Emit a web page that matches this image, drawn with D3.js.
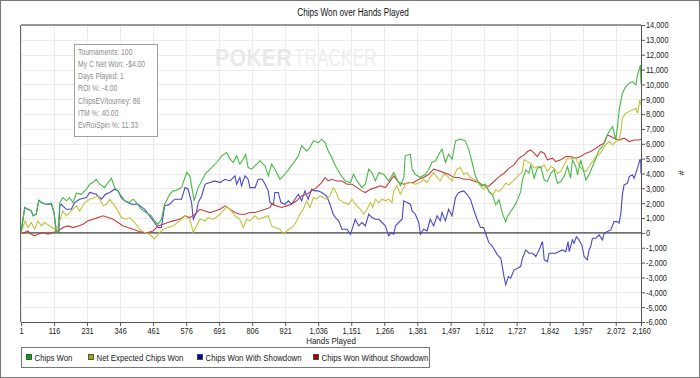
<!DOCTYPE html>
<html>
<head>
<meta charset="utf-8">
<script src="https://cdn.jsdelivr.net/npm/d3@7"></script>
<style>
  body { margin: 0; background: #fff; }
  text { font-family: "Liberation Sans", Arial, sans-serif; }
</style>
</head>
<body>
<div id="chart"></div>
<script>
// ---- data ----
var handTicks = [1, 116, 231, 346, 461, 576, 691, 806, 921, 1036, 1151, 1266, 1381, 1497, 1612, 1727, 1842, 1957, 2072, 2160];
var chipTicks = [-6000, -5000, -4000, -3000, -2000, -1000, 0, 1000, 2000, 3000, 4000, 5000, 6000, 7000, 8000, 9000, 10000, 11000, 12000, 13000, 14000];

var wonHands = [1, 14, 20, 37, 43, 54, 63, 72, 89, 107, 116, 124, 130, 136, 147, 159, 170, 182, 194, 211, 229, 240, 252, 263, 275, 292, 304, 316, 327, 339, 350, 362, 379, 391, 403, 420, 437, 455, 466, 478, 490, 501, 519, 530, 537, 560, 578, 589, 604, 618, 642, 653, 665, 682, 700, 717, 729, 740, 752, 763, 775, 783, 792, 804, 822, 833, 851, 862, 874, 885, 903, 920, 938, 955, 967, 978, 996, 1007, 1019, 1036, 1048, 1060, 1071, 1083, 1096, 1113, 1130, 1148, 1159, 1171, 1188, 1200, 1212, 1223, 1235, 1247, 1264, 1281, 1299, 1310, 1322, 1334, 1339, 1357, 1363, 1374, 1392, 1409, 1421, 1432, 1444, 1456, 1467, 1479, 1490, 1502, 1514, 1531, 1548, 1560, 1572, 1583, 1595, 1606, 1618, 1631, 1643, 1654, 1666, 1677, 1689, 1695, 1706, 1718, 1730, 1741, 1747, 1759, 1770, 1776, 1788, 1799, 1811, 1823, 1834, 1846, 1857, 1869, 1881, 1892, 1904, 1915, 1921, 1933, 1939, 1950, 1962, 1968, 1979, 1991, 2003, 2014, 2026, 2037, 2049, 2061, 2072, 2078, 2084, 2095, 2107, 2119, 2130, 2142, 2148, 2155, 2158, 2160];
var wonChips = [0, 1710, 1640, 1480, 1150, 1260, 2200, 2040, 1930, 2000, 1370, 20, 70, 2040, 2380, 2160, 2380, 2040, 2670, 2600, 2940, 3280, 3390, 3610, 3280, 3050, 3390, 3680, 3050, 2830, 2490, 2160, 2040, 2270, 2040, 1590, 1370, 1150, 810, 580, 920, 1930, 2600, 2830, 2830, 3050, 4060, 3840, 2160, 3050, 3950, 4180, 4400, 4740, 5190, 5410, 4960, 4740, 5190, 4630, 4960, 5300, 4400, 4290, 4630, 4850, 4510, 3840, 4630, 4290, 3610, 3950, 4400, 4850, 5190, 5860, 5520, 5750, 6200, 6080, 6310, 6080, 5520, 5070, 4510, 3950, 3500, 3390, 3950, 3500, 3050, 3280, 4290, 4060, 3500, 4060, 3950, 3500, 4060, 3610, 3170, 3730, 5190, 5300, 4290, 3950, 3730, 3950, 4290, 4740, 4850, 5300, 5640, 4740, 5300, 4960, 6200, 6310, 6200, 5640, 4740, 3840, 3390, 3170, 3280, 2750, 2560, 1890, 2220, 1330, 760, 1100, 1440, 1770, 2220, 2780, 3570, 4240, 4020, 4580, 3680, 4360, 4470, 3570, 3460, 4020, 4240, 3350, 3460, 3790, 4470, 3680, 4920, 4470, 3910, 4920, 4020, 3570, 3910, 4470, 5030, 5590, 5820, 6380, 6830, 7160, 6260, 7160, 8280, 9410, 9860, 10080, 10190, 9970, 10640, 11100, 11300, 10050];

var evHands = [1, 16, 25, 37, 49, 60, 72, 83, 101, 118, 130, 147, 159, 176, 194, 205, 223, 240, 258, 269, 287, 298, 310, 327, 339, 350, 368, 379, 397, 414, 432, 449, 466, 478, 496, 513, 530, 554, 572, 589, 601, 612, 624, 642, 653, 671, 688, 705, 717, 729, 746, 763, 775, 787, 798, 816, 827, 845, 862, 874, 885, 903, 914, 926, 943, 955, 972, 984, 996, 1007, 1019, 1030, 1042, 1054, 1065, 1077, 1088, 1096, 1107, 1125, 1142, 1154, 1165, 1183, 1194, 1206, 1218, 1226, 1235, 1247, 1258, 1270, 1281, 1293, 1299, 1310, 1322, 1334, 1339, 1357, 1374, 1392, 1403, 1415, 1426, 1438, 1450, 1461, 1473, 1485, 1502, 1519, 1531, 1543, 1554, 1566, 1577, 1589, 1601, 1612, 1624, 1631, 1643, 1654, 1666, 1677, 1689, 1701, 1712, 1724, 1735, 1747, 1753, 1765, 1776, 1788, 1799, 1811, 1823, 1834, 1846, 1857, 1869, 1881, 1892, 1904, 1921, 1933, 1944, 1956, 1968, 1979, 1991, 2003, 2014, 2026, 2037, 2049, 2061, 2072, 2084, 2090, 2095, 2107, 2119, 2130, 2142, 2148, 2156, 2160];
var evChips = [0, 810, 360, 700, 250, 810, 470, 700, 470, 250, 470, 1480, 1150, 1480, 1820, 1480, 2040, 2270, 2380, 2490, 1820, 1930, 2270, 1820, 1480, 1030, 920, 1030, 700, 250, 20, -90, -400, -90, 250, 360, 470, 810, 1150, 920, 20, 470, 920, 810, 1030, 920, 1150, 1480, 1770, 1590, 1150, 920, 360, 920, 810, 1150, 920, 1030, 1150, 470, 360, 250, -90, 130, 360, 580, 1260, 1590, 2160, 1710, 2380, 2270, 2490, 2380, 2270, 2490, 3050, 2830, 2270, 2040, 1930, 2270, 1930, 1590, 1260, 1590, 2040, 1710, 2270, 2040, 2270, 2160, 2270, 2040, 2830, 3170, 2600, 3050, 3280, 3390, 3280, 3390, 3610, 3390, 3730, 4060, 3730, 3500, 3950, 3840, 3500, 4290, 4400, 3950, 4060, 3730, 3610, 3500, 3170, 2940, 3170, 2780, 2560, 2900, 2780, 3010, 3350, 3230, 3460, 3680, 3910, 4130, 4920, 4800, 4690, 4360, 4470, 4360, 4580, 4130, 4470, 4360, 4020, 4130, 4580, 5030, 5030, 5030, 4580, 4240, 4130, 4470, 4800, 5140, 5250, 5590, 5930, 6150, 5930, 6150, 6260, 6830, 7720, 8060, 8170, 8280, 8400, 8060, 8960, 8620];

var sdHands = [1, 14, 20, 37, 43, 54, 63, 72, 89, 107, 116, 124, 133, 136, 141, 159, 176, 188, 205, 229, 240, 263, 281, 295, 310, 327, 339, 350, 362, 385, 408, 432, 449, 466, 478, 490, 501, 519, 530, 537, 560, 572, 583, 595, 601, 612, 618, 630, 642, 659, 676, 694, 711, 729, 746, 752, 763, 769, 781, 792, 798, 816, 827, 841, 851, 862, 868, 880, 885, 897, 906, 920, 932, 943, 955, 967, 978, 990, 1001, 1013, 1025, 1036, 1048, 1065, 1077, 1088, 1096, 1107, 1119, 1136, 1148, 1156, 1165, 1177, 1188, 1200, 1212, 1223, 1235, 1247, 1258, 1270, 1281, 1291, 1299, 1305, 1316, 1328, 1334, 1345, 1357, 1363, 1374, 1386, 1392, 1403, 1415, 1426, 1438, 1450, 1461, 1467, 1479, 1490, 1502, 1514, 1525, 1543, 1554, 1566, 1577, 1589, 1601, 1612, 1620, 1630, 1643, 1660, 1672, 1683, 1689, 1698, 1706, 1718, 1730, 1741, 1747, 1759, 1770, 1782, 1794, 1805, 1817, 1823, 1834, 1840, 1863, 1875, 1886, 1898, 1906, 1910, 1921, 1927, 1935, 1944, 1954, 1962, 1973, 1979, 1985, 1991, 2003, 2014, 2026, 2032, 2043, 2055, 2066, 2078, 2084, 2090, 2095, 2101, 2113, 2119, 2130, 2136, 2142, 2151, 2156, 2159, 2160];
var sdChips = [0, 1710, 1640, 1480, 1150, 1260, 2200, 2040, 1930, 1930, 1370, 20, 30, 1820, 1930, 1590, 1590, 2040, 2270, 2380, 2720, 2600, 2270, 2600, 2720, 2940, 2830, 2380, 2160, 1930, 1930, 1590, 1150, 700, 360, 360, 1820, 1930, 2160, 2270, 2270, 3050, 2940, 2040, 920, 1370, 2040, 2490, 3280, 3390, 3500, 3390, 3610, 3500, 3840, 3280, 3730, 3170, 3840, 3610, 3050, 3050, 3610, 3610, 3280, 2830, 2040, 1930, 2720, 2720, 2040, 1930, 2160, 1930, 2270, 2600, 2160, 2830, 2270, 2940, 2830, 2830, 2720, 2490, 1930, 1260, 1030, 810, 250, 250, -90, 360, 920, 470, 700, 470, 1260, 1030, 920, 920, 700, 470, -200, 20, -90, 470, 700, 920, 2160, 2040, 1930, 1480, 1260, 700, -90, 250, 130, 920, 470, 1150, 810, 1370, 810, 1590, 1150, 2380, 2720, 2830, 2600, 2270, 1590, 920, 360, 360, -90, -650, -920, -1480, -1710, -2940, -3500, -2940, -3050, -2490, -2380, -2270, -1710, -1150, -1370, -1370, -1590, -1150, -580, -1820, -1930, -1370, -1370, -1260, -1150, -1260, -580, -1260, -470, -700, -250, -470, -810, -1590, -1820, -1150, -920, -360, -360, -130, -470, -20, 90, 200, 760, 760, 650, 1330, 2560, 3230, 3350, 3790, 3910, 3680, 4020, 4580, 4920, 4920, 4020];

var nsdHands = [1, 14, 25, 37, 49, 60, 78, 95, 112, 130, 147, 165, 182, 200, 217, 234, 252, 269, 287, 304, 321, 339, 356, 374, 391, 408, 426, 443, 461, 478, 496, 513, 530, 554, 572, 589, 607, 624, 642, 659, 676, 694, 711, 729, 746, 763, 781, 798, 816, 833, 851, 868, 874, 891, 909, 926, 943, 961, 978, 996, 1013, 1030, 1048, 1060, 1071, 1083, 1101, 1119, 1136, 1154, 1171, 1188, 1200, 1218, 1235, 1252, 1270, 1287, 1299, 1316, 1334, 1351, 1368, 1386, 1403, 1421, 1438, 1456, 1473, 1490, 1508, 1525, 1543, 1560, 1577, 1595, 1612, 1630, 1648, 1666, 1683, 1701, 1718, 1735, 1753, 1765, 1776, 1788, 1799, 1811, 1823, 1834, 1852, 1863, 1881, 1898, 1915, 1933, 1950, 1968, 1985, 2003, 2020, 2032, 2043, 2055, 2066, 2084, 2101, 2119, 2136, 2153, 2160];
var nsdChips = [0, 20, 130, -90, -200, -90, 20, -90, 20, 130, 360, 470, 360, 470, 580, 810, 920, 1030, 1150, 1030, 920, 700, 470, 360, 250, 130, 20, 20, 130, 470, 580, 700, 810, 920, 1150, 1030, 1260, 1590, 1480, 1370, 1480, 1590, 1820, 1590, 1370, 1260, 1260, 1370, 1370, 1480, 1590, 1710, 1930, 1820, 1710, 1820, 1930, 2160, 2490, 2600, 2830, 3050, 3390, 3730, 3500, 3610, 3500, 3500, 3280, 3280, 3050, 2830, 2720, 2940, 3050, 3170, 3050, 3500, 3840, 3390, 3280, 3390, 3390, 3610, 3730, 3950, 4290, 4180, 4060, 3950, 3730, 3730, 3610, 3610, 3500, 3390, 3170, 3140, 3460, 3790, 4020, 4360, 4580, 5030, 5250, 5480, 5590, 5370, 5140, 5480, 5370, 4920, 5030, 4800, 4920, 5140, 5140, 5030, 5140, 5370, 5480, 5700, 5930, 6040, 6600, 6490, 6380, 6260, 6380, 6150, 6260, 6260, 6310];

var legendNames = ["Chips Won", "Net Expected Chips Won", "Chips Won With Showdown", "Chips Won Without Showdown"];
var infoLines = ["Tournaments: 100", "My C Net Won: -$4.00", "Days Played: 1", "ROI %: -4.00", "ChipsEV/tourney: 86", "ITM %: 40.00", "EvRoiSpin %: 11.33"];

// ---- layout ----
var W = 700, H = 378;
var margin = { top: 25, right: 59, bottom: 56, left: 21 },
  width = W - margin.left - margin.right,
  height = H - margin.top - margin.bottom;

var x = d3.scaleLinear().domain([1, 2160]).range([0, width]);
var y = d3.scaleLinear().domain([-6000, 14000]).range([height, 0]);

var fmt = function (d) { return d3.format(",")(d).replace("\u2212", "-"); };

// no narrow font installed, so squeeze the text horizontally
function squeeze(sel, k) {
  sel.each(function () {
    var w = this.getComputedTextLength();
    d3.select(this).attr("textLength", w * k).attr("lengthAdjust", "spacingAndGlyphs");
  });
}

var root = d3.select("#chart").append("svg")
  .attr("width", W)
  .attr("height", H);

root.append("rect")
  .attr("x", 0.5).attr("y", 0.5)
  .attr("width", W - 1).attr("height", H - 1)
  .style("fill", "#fff").style("stroke", "#777");

var title = root.append("text")
  .attr("x", 353).attr("y", 16)
  .attr("text-anchor", "middle")
  .style("font-size", "10px").style("fill", "#111")
  .text("Chips Won over Hands Played");
squeeze(title, 0.82);

var svg = root.append("g")
  .attr("transform", "translate(" + margin.left + "," + margin.top + ")");

// grid
svg.append("g").selectAll("line").data(chipTicks).enter().append("line")
  .attr("x1", 0).attr("x2", width)
  .attr("y1", function (d) { return Math.round(y(d)) + 0.5; })
  .attr("y2", function (d) { return Math.round(y(d)) + 0.5; })
  .style("stroke", "#ececec");
svg.append("g").selectAll("line").data(handTicks).enter().append("line")
  .attr("y1", 0).attr("y2", height)
  .attr("x1", function (d) { return Math.round(x(d)) + 0.5; })
  .attr("x2", function (d) { return Math.round(x(d)) + 0.5; })
  .style("stroke", "#ececec");

// watermark (scaled with a transform so its box stays true)
svg.append("text")
  .attr("transform", "translate(194,41) scale(0.9,1)")
  .style("font-size", "24px").style("font-weight", "bold").style("fill", "#e9e9e9")
  .text("POKER");
svg.append("text")
  .attr("transform", "translate(273,41) scale(0.72,1)")
  .style("font-size", "24px").style("fill", "#eeeeee")
  .text("TRACKER");

// info box
var info = svg.append("g").attr("transform", "translate(53.5,19.5)");
info.append("rect")
  .attr("width", 83).attr("height", 92)
  .style("fill", "#fff").style("stroke", "#a0a0a0");
var infoText = info.selectAll("text").data(infoLines).enter().append("text")
  .attr("x", 3.5)
  .attr("y", function (d, i) { return 10 + i * 12.3; })
  .style("font-size", "8.5px").style("fill", "#8c8c8c")
  .text(function (d) { return d; });
squeeze(infoText, 0.8);

// series
var series = [
  { hands: sdHands, chips: sdChips, color: "#4848c8" },
  { hands: nsdHands, chips: nsdChips, color: "#c04040" },
  { hands: evHands, chips: evChips, color: "#c2c23c" },
  { hands: wonHands, chips: wonChips, color: "#46b846" }
];
var line = d3.line()
  .x(function (d) { return x(d[0]); })
  .y(function (d) { return y(d[1]); });

// zero line
svg.append("line")
  .attr("x1", 0).attr("x2", width)
  .attr("y1", y(0)).attr("y2", y(0))
  .style("stroke", "#444").style("stroke-width", 1.3);

series.forEach(function (s) {
  svg.append("path")
    .datum(d3.zip(s.hands, s.chips))
    .attr("d", line)
    .style("fill", "none")
    .style("stroke", s.color)
    .style("stroke-width", 1.1);
});

// frame
svg.append("line").attr("x1", 0).attr("x2", width).attr("y1", 0).attr("y2", 0)
  .style("stroke", "#777").style("stroke-width", 1.5);
svg.append("line").attr("x1", -0.5).attr("x2", -0.5).attr("y1", 0).attr("y2", height)
  .style("stroke", "#666");

// axes
var yAxis = d3.axisRight(y).tickValues(chipTicks).tickFormat(fmt).tickSize(4).tickSizeOuter(0);
var xAxis = d3.axisBottom(x).tickValues(handTicks).tickFormat(fmt).tickSize(4).tickSizeOuter(0);

var ya = svg.append("g")
  .attr("transform", "translate(" + width + ",0)")
  .call(yAxis);
var xa = svg.append("g")
  .attr("transform", "translate(0," + height + ")")
  .call(xAxis);
[ya, xa].forEach(function (a) {
  a.select(".domain").style("stroke", "#555");
  a.selectAll(".tick line").style("stroke", "#555");
  a.selectAll("text").style("font-size", "9px").style("fill", "#222")
    .style("font-family", "'Liberation Sans', Arial, sans-serif");
  squeeze(a.selectAll("text"), 0.82);
});
ya.selectAll("text").attr("x", 5);
xa.selectAll("text").attr("y", 6);

root.append("text")
  .attr("transform", "translate(678,173) rotate(90)")
  .attr("text-anchor", "middle")
  .style("font-size", "9px").style("fill", "#222")
  .text("#");

var xTitle = root.append("text")
  .attr("x", margin.left + width / 2).attr("y", 344)
  .attr("text-anchor", "middle")
  .style("font-size", "9.5px").style("fill", "#222")
  .text("Hands Played");
squeeze(xTitle, 0.84);

// legend
var lg = root.append("g").attr("transform", "translate(21.5,347.5)");
lg.append("rect")
  .attr("width", 408).attr("height", 20)
  .style("fill", "#fff").style("stroke", "#777");
var legendColors = ["#00a800", "#a8a800", "#0000a8", "#a80000"];
var legendX = [5, 67, 176, 292];
legendNames.forEach(function (name, i) {
  lg.append("rect")
    .attr("x", legendX[i]).attr("y", 7)
    .attr("width", 5).attr("height", 5)
    .style("fill", legendColors[i]).style("stroke", "#333").style("stroke-width", 0.8);
  var t = lg.append("text")
    .attr("x", legendX[i] + 8).attr("y", 13.3)
    .style("font-size", "9.5px").style("fill", "#222")
    .text(name);
  squeeze(t, 0.82);
});
</script>
</body>
</html>
